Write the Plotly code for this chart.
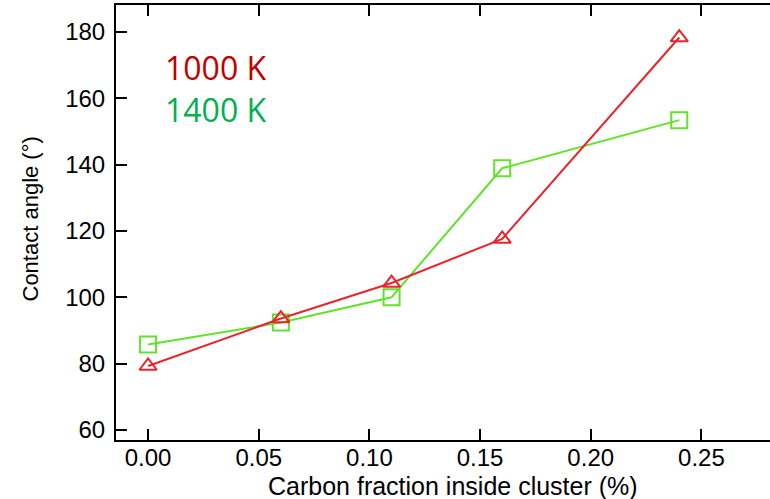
import plotly.graph_objects as go

carbon_fraction = [0.00, 0.06, 0.11, 0.16, 0.24]
angle_1000K = [79.3, 93.6, 104.3, 117.6, 178.3]
angle_1400K = [85.8, 92.4, 100.0, 138.9, 153.4]
series_names = ["1000 K", "1400 K"]
x_ticks = [0.00, 0.05, 0.10, 0.15, 0.20, 0.25]
y_ticks = [60, 80, 100, 120, 140, 160, 180]
x_title = "Carbon fraction inside cluster (%)"
y_title = "Contact angle (°)"

fig = go.Figure()
fig.add_trace(go.Scatter(
    x=carbon_fraction, y=angle_1400K, mode="lines+markers", name=series_names[1],
    line=dict(color="#62e22c", width=2),
    marker=dict(symbol="square-open", size=16, color="#62e22c", line=dict(width=2)),
))
fig.add_trace(go.Scatter(
    x=carbon_fraction, y=angle_1000K, mode="lines+markers", name=series_names[0],
    line=dict(color="#e8242c", width=2),
    marker=dict(symbol="triangle-up-open", size=15, color="#e8242c", line=dict(width=2)),
))

fig.add_annotation(x=0.0068, y=169.2, xref="x", yref="y", text=series_names[0],
                   showarrow=False, xanchor="left", yanchor="middle",
                   font=dict(family="Open Sans", size=32, color="#c00000"))
fig.add_annotation(x=0.0068, y=156.7, xref="x", yref="y", text=series_names[1],
                   showarrow=False, xanchor="left", yanchor="middle",
                   font=dict(family="Open Sans", size=32, color="#00b050"))

fig.add_annotation(x=0.5, y=0, xref="paper", yref="paper", yshift=-46,
                   text=x_title, showarrow=False, xanchor="center", yanchor="middle",
                   xshift=10, font=dict(size=25))
fig.add_annotation(x=0, y=0.5, xref="paper", yref="paper", xshift=-86, yshift=3,
                   text=y_title, showarrow=False, textangle=-90,
                   xanchor="center", yanchor="middle", font=dict(size=22))

fig.update_layout(
    width=770, height=499,
    margin=dict(l=116, r=0, t=5, b=59, autoexpand=False),
    plot_bgcolor="white", paper_bgcolor="white",
    showlegend=False,
    font=dict(family="Liberation Sans, Arial, sans-serif", color="black"),
)
fig.update_xaxes(
    range=[-0.0145, 0.281], tickvals=x_ticks,
    ticktext=[f"{v:.2f}" for v in x_ticks],
    showgrid=False, zeroline=False,
    showline=True, linecolor="black", linewidth=2, mirror="ticks",
    ticks="inside", ticklen=11, tickwidth=2, tickcolor="black",
    tickfont=dict(size=24), ticklabelstandoff=-5, automargin=False,
)
fig.update_yaxes(
    range=[57, 188.1], tickvals=y_ticks,
    showgrid=False, zeroline=False,
    showline=True, linecolor="black", linewidth=2,
    ticks="inside", ticklen=11, tickwidth=2, tickcolor="black",
    tickfont=dict(size=24), ticklabelstandoff=4, automargin=False,
)

fig.write_html(
    "out.html",
    config={"displayModeBar": False},
    post_script="document.body.style.margin='0';document.body.style.overflow='hidden';",
)
